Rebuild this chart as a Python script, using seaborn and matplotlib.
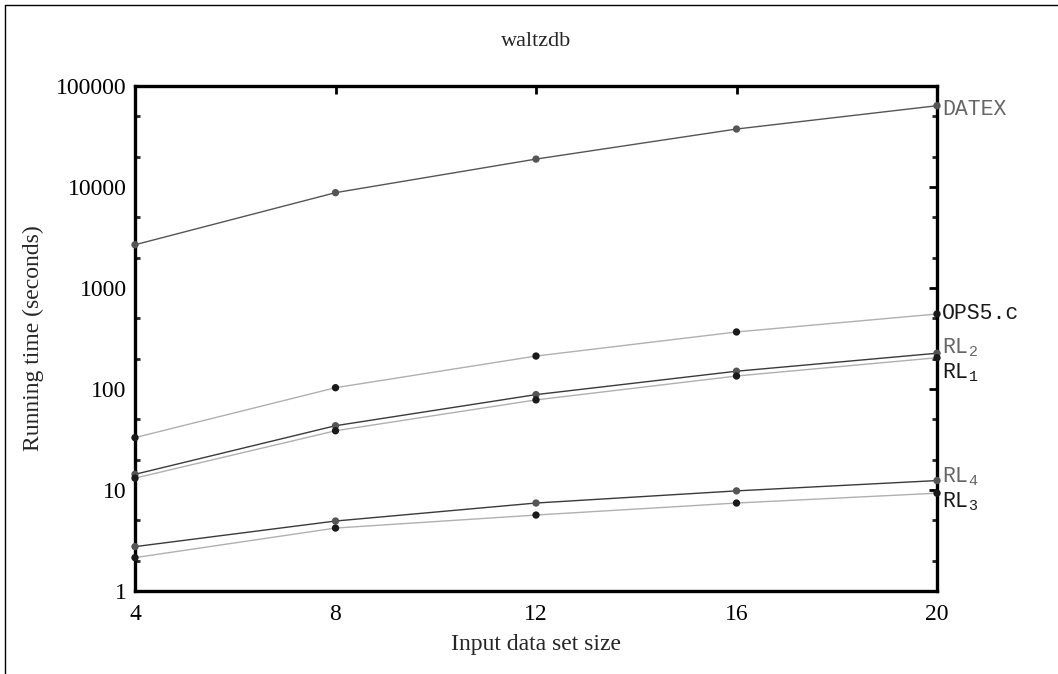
import numpy as np
import pandas as pd
import matplotlib
matplotlib.use("Agg")
import matplotlib.pyplot as plt
import matplotlib.ticker as mticker
from matplotlib.lines import Line2D
import seaborn as sns

# ---- data ----
sizes = [4, 8, 12, 16, 20]
series_names = ["DATEX", "OPS5.c", "RL2", "RL1", "RL4", "RL3"]
datex = [2680, 8790, 18900, 37500, 63800]
ops5c = [33, 103, 212, 367, 553]
rl2 = [14.3, 43.3, 88, 150, 226]
rl1 = [13.1, 38.6, 78, 134.5, 204]
rl4 = [2.75, 4.93, 7.43, 9.8, 12.4]
rl3 = [2.14, 4.2, 5.65, 7.43, 9.3]
labels = ["DATEX", "OPS5.c", r"RL$_{2}$", r"RL$_{1}$", r"RL$_{4}$", r"RL$_{3}$"]
y_ticks = [1, 10, 100, 1000, 10000, 100000]

values = [datex, ops5c, rl2, rl1, rl4, rl3]
df = pd.DataFrame({
    "size": np.tile(sizes, len(series_names)),
    "time": np.concatenate(values),
    "series": np.repeat(series_names, len(sizes)),
})

# styles
line_colors = {"DATEX": "#555555", "OPS5.c": "#b0b0b0", "RL2": "#3a3a3a",
               "RL1": "#b0b0b0", "RL4": "#3a3a3a", "RL3": "#b0b0b0"}
dot_colors = {"DATEX": "#555555", "OPS5.c": "#1a1a1a", "RL2": "#555555",
              "RL1": "#1a1a1a", "RL4": "#555555", "RL3": "#1a1a1a"}
text_colors = {"DATEX": "#666666", "OPS5.c": "#1a1a1a", "RL2": "#666666",
               "RL1": "#1a1a1a", "RL4": "#666666", "RL3": "#1a1a1a"}
label_dy = {"DATEX": -3, "OPS5.c": 0, "RL2": 4, "RL1": -11, "RL4": 3, "RL3": -6}

sns.set_theme(style="white")
plt.rcParams["font.family"] = ["Liberation Serif", "DejaVu Serif"]
plt.rcParams["mathtext.fontset"] = "custom"
plt.rcParams["mathtext.rm"] = "Liberation Mono"
plt.rcParams["mathtext.it"] = "Liberation Mono"
plt.rcParams["mathtext.bf"] = "Liberation Mono"

fig = plt.figure(figsize=(10.58, 6.74), dpi=100)
ax = fig.add_axes([135 / 1058, 1 - 591 / 674, (937 - 135) / 1058, (591 - 86) / 674])

sns.lineplot(data=df, x="size", y="time", hue="series", palette=line_colors,
             hue_order=series_names, lw=1.0, legend=False, ax=ax, zorder=2)
sns.scatterplot(data=df, x="size", y="time", hue="series", palette=dot_colors,
                hue_order=series_names, s=28, edgecolor="none", legend=False,
                ax=ax, zorder=3, clip_on=False)

ax.set_yscale("log")
ax.set_xlim(4, 20)
ax.set_ylim(1, 100000)
ax.set_xticks(sizes)
ax.set_xticklabels([str(s) for s in sizes])
ax.set_yticks(y_ticks)
ax.set_yticklabels([str(t) for t in y_ticks])
ax.yaxis.set_minor_locator(mticker.LogLocator(base=10, subs=[2, 5]))
ax.yaxis.set_minor_formatter(mticker.NullFormatter())

ax.tick_params(axis="both", which="major", direction="in", length=6, width=2,
               top=True, right=True, labelsize=17, colors="black")
ax.tick_params(axis="x", which="major", pad=9)
ax.tick_params(axis="y", which="major", pad=6)
ax.tick_params(axis="y", which="minor", direction="in", length=3.5, width=2,
               left=True, right=True)
for sp in ax.spines.values():
    sp.set_linewidth(2.4)
    sp.set_color("black")

ax.set_xlabel("Input data set size", fontsize=17, labelpad=7)
ax.set_ylabel("Running time (seconds)", fontsize=17, labelpad=9)
ax.set_title("waltzdb", fontsize=16, pad=29)

for name, lab, vals in zip(series_names, labels, values):
    ax.annotate(lab, xy=(sizes[-1], vals[-1]), xytext=(3.5, label_dy[name]),
                textcoords="offset points", ha="left", va="center",
                fontsize=15.5, color=text_colors[name],
                family=["Liberation Mono", "DejaVu Sans Mono"],
                annotation_clip=False)

# figure frame lines (top and left)
fig.add_artist(Line2D([5 / 1058, 5 / 1058], [0, 1 - 5 / 674], transform=fig.transFigure,
                      color="black", lw=1.0))
fig.add_artist(Line2D([5 / 1058, 1], [1 - 5 / 674, 1 - 5 / 674], transform=fig.transFigure,
                      color="black", lw=1.0))

fig.savefig("out.png", dpi=100)
